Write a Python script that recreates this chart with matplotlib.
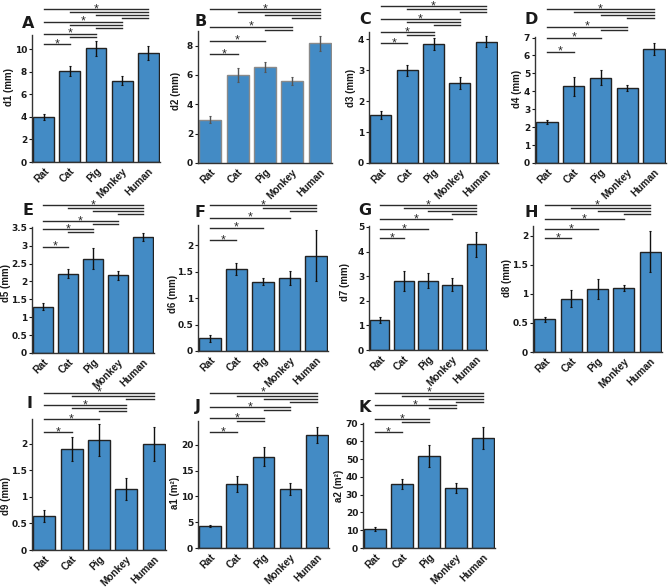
import matplotlib
matplotlib.use("Agg")
import matplotlib.pyplot as plt
from matplotlib import transforms
from matplotlib.lines import Line2D
from matplotlib.ticker import FuncFormatter

plt.rcParams['font.family'] = ['DejaVu Sans']
plt.rcParams['font.weight'] = 'bold'

W, H = 669, 587

categories = ["Rat", "Cat", "Pig", "Monkey", "Human"]

d1 = [3.98, 8.08, 10.1, 7.23, 9.65]
d1_err = [0.25, 0.47, 0.68, 0.40, 0.62]
d2 = [2.96, 5.99, 6.54, 5.58, 8.15]
d2_err = [0.23, 0.49, 0.34, 0.26, 0.50]
d3 = [1.56, 3.00, 3.84, 2.60, 3.92]
d3_err = [0.12, 0.18, 0.19, 0.19, 0.18]
d4 = [2.27, 4.27, 4.77, 4.18, 6.35]
d4_err = [0.12, 0.52, 0.40, 0.16, 0.33]
d5 = [1.29, 2.21, 2.64, 2.17, 3.24]
d5_err = [0.10, 0.125, 0.30, 0.125, 0.12]
d6 = [0.24, 1.55, 1.31, 1.38, 1.80]
d6_err = [0.07, 0.11, 0.07, 0.13, 0.48]
d7 = [1.21, 2.80, 2.82, 2.65, 4.30]
d7_err = [0.12, 0.42, 0.32, 0.26, 0.50]
d8 = [0.56, 0.92, 1.08, 1.10, 1.73]
d8_err = [0.05, 0.14, 0.17, 0.05, 0.36]
d9 = [0.64, 1.90, 2.07, 1.15, 1.99]
d9_err = [0.12, 0.23, 0.30, 0.20, 0.32]
a1 = [4.26, 12.4, 17.7, 11.35, 21.9]
a1_err = [0.26, 1.6, 1.8, 1.15, 1.6]
a2 = [10.6, 36.2, 51.9, 33.8, 61.8]
a2_err = [1.1, 2.9, 6.3, 2.6, 6.3]

ylabels = ["d1 (mm)", "d2 (mm)", "d3 (mm)", "d4 (mm)", "d5 (mm)", "d6 (mm)",
           "d7 (mm)", "d8 (mm)", "d9 (mm)", "a1 (m²)", "a2 (m²)"]
panel_letters = ["A", "B", "C", "D", "E", "F", "G", "H", "I", "J", "K"]
values = [d1, d2, d3, d4, d5, d6, d7, d8, d9, a1, a2]
errors = [d1_err, d2_err, d3_err, d4_err, d5_err, d6_err, d7_err, d8_err, d9_err, a1_err, a2_err]
yticks = [[0, 2, 4, 6, 8, 10], [0, 2, 4, 6, 8], [0, 1, 2, 3, 4], [0, 1, 2, 3, 4, 5, 6, 7],
          [0, 0.5, 1, 1.5, 2, 2.5, 3, 3.5], [0, 0.5, 1, 1.5, 2], [0, 1, 2, 3, 4, 5],
          [0, 0.5, 1, 1.5, 2], [0, 0.5, 1, 1.5, 2], [0, 5, 10, 15, 20],
          [0, 10, 20, 30, 40, 50, 60, 70]]
ytops = [11.27, 9.0, 4.24, 7.03, 3.52, 2.38, 5.04, 2.17, 2.47, 24.6, 70.4]

# significance: target index -> list of source indices
significance = [
    {1: [0], 2: [0, 1], 3: [0, 1, 2], 4: [0, 1, 2, 3]},
    {1: [0], 2: [0], 3: [0, 2], 4: [0, 1, 2, 3]},
    {1: [0], 2: [0, 1], 3: [0, 1, 2], 4: [0, 1, 3]},
    {1: [0], 2: [0], 3: [0, 2], 4: [0, 1, 2, 3]},
    {1: [0], 2: [0, 1], 3: [0, 2], 4: [0, 1, 2, 3]},
    {1: [0], 2: [0], 3: [0], 4: [0, 2, 3]},
    {1: [0], 2: [0], 3: [0], 4: [0, 1, 2, 3]},
    {1: [0], 2: [0], 3: [0], 4: [0, 1, 2, 3]},
    {1: [0], 2: [0], 3: [0, 1, 2], 4: [0, 1, 3]},
    {1: [0], 2: [0, 1], 3: [0, 2], 4: [0, 1, 2, 3]},
    {1: [0], 2: [0, 1], 3: [0, 2], 4: [0, 1, 2, 3]},
]

# ---- layout (pixels) ----
axes_px = [  # left, right, top, bottom
    (32, 160, 35, 162), (198, 332, 31, 163), (369, 498, 32, 163), (535, 666, 37, 163),
    (32, 154, 227, 353), (198, 328, 225, 351), (369, 487, 226, 350), (533, 662, 226, 352),
    (32, 166, 419, 550), (198, 329, 421, 548), (363, 495, 423, 548),
]
# first-line y (px from top) for target groups Cat, Pig, Monkey, Human
sig_y = [
    (44.3, 33.7, 21.7, 9), (54.3, 40.7, 26.7, 9), (43.3, 32.3, 19.3, 6), (51.7, 37.7, 26.7, 9.3),
    (246.7, 229, 221, 205), (240, 227.7, 217.7, 205), (238.3, 229.3, 219.3, 205), (238.3, 229.3, 219.3, 205),
    (432, 419.3, 405, 392.7), (432.3, 418.3, 407.3, 392.7), (432.3, 419.3, 405, 392.7),
]
letter_px = [(34, 23), (207, 21), (371, 19), (538, 19),
             (34, 210), (206, 212), (371, 211), (538, 213),
             (32, 403), (201, 407), (371, 407)]
# y-label centre: px left of axis, fraction of axis height
ylab_pos = [(23, 0.59), (23, 0.545), (18, 0.57), (18, 0.59),
            (26, 0.556), (26, 0.45), (24, 0.55), (26, 0.59),
            (26, 0.41), (24, 0.43), (24, 0.5)]

fig = plt.figure(figsize=(W / 100, H / 100), dpi=100)
fig.patch.set_facecolor('white')

bar_color = '#438BC5'
txt_color = '#1a1a1a'
fmt = FuncFormatter(lambda v, p: f"{v:g}")
narrow = ['Liberation Sans', 'DejaVu Sans']

for k in range(11):
    l, r, t, b = axes_px[k]
    aw = r - l
    ax = fig.add_axes([l / W, 1 - b / H, aw / W, (b - t) / H])
    x = list(range(len(categories)))
    if k == 1:
        edge, elw, ecol = '#8a8a8a', 1.0, '#555555'
    else:
        edge, elw, ecol = '#222222', 1.0, '#111111'
    ax.bar(x, values[k], width=0.8, color=bar_color, edgecolor=edge, linewidth=elw, zorder=2)
    ax.errorbar(x, values[k], yerr=errors[k], fmt='none', ecolor=ecol,
                elinewidth=1.0, capsize=1.0, capthick=0.8, zorder=3)
    ax.set_xlim(-0.45, 4.45)
    ax.set_ylim(0, ytops[k])
    ax.set_yticks(yticks[k])
    ax.yaxis.set_major_formatter(fmt)
    ax.set_xticks(x)
    ax.set_xticklabels(categories, rotation=45, ha='right', rotation_mode='anchor',
                       fontsize=7.3, fontweight='bold', color=txt_color, family=narrow)
    ax.tick_params(axis='x', length=0, pad=3)
    ax.tick_params(axis='y', length=2, width=0.8, labelsize=6.5, pad=1.5, colors=txt_color)
    for lab in ax.get_yticklabels():
        lab.set_fontweight('bold')
    for s in ('top', 'right'):
        ax.spines[s].set_visible(False)
    for s in ('left', 'bottom'):
        ax.spines[s].set_linewidth(1.0)
        ax.spines[s].set_color('#333333')
    ax.set_ylabel(ylabels[k], fontsize=7.0, fontweight='bold', color=txt_color, family=narrow)
    off, yfrac = ylab_pos[k]
    ax.yaxis.set_label_coords(-(off - 5.5) / aw, yfrac)

    blend = transforms.blended_transform_factory(ax.transData, fig.transFigure)
    groups = significance[k]
    for gi, target in enumerate([1, 2, 3, 4]):
        srcs = groups.get(target, [])
        y0 = sig_y[k][gi]
        for si, s in enumerate(srcs):
            ypx = y0 + 3.0 * si
            yf = 1 - ypx / H
            ax.add_line(Line2D([s, target], [yf, yf], transform=blend, color='#2b2b2b',
                               lw=1.0, clip_on=False, zorder=4))
            if si == 0:
                ax.text((s + target) / 2, 1 - (y0 + 3.2) / H, '*', transform=blend,
                        ha='center', va='baseline', fontsize=9, color='#2b2b2b',
                        fontweight='normal', clip_on=False, family=narrow)
    ax.set_xlim(-0.45, 4.45)
    ax.set_ylim(0, ytops[k])

    lx, ly = letter_px[k]
    fig.text(lx / W, 1 - ly / H, panel_letters[k], ha='right', va='center',
             fontsize=11.5, fontweight='bold', color=txt_color)

fig.savefig('out.png', dpi=100, facecolor='white')
